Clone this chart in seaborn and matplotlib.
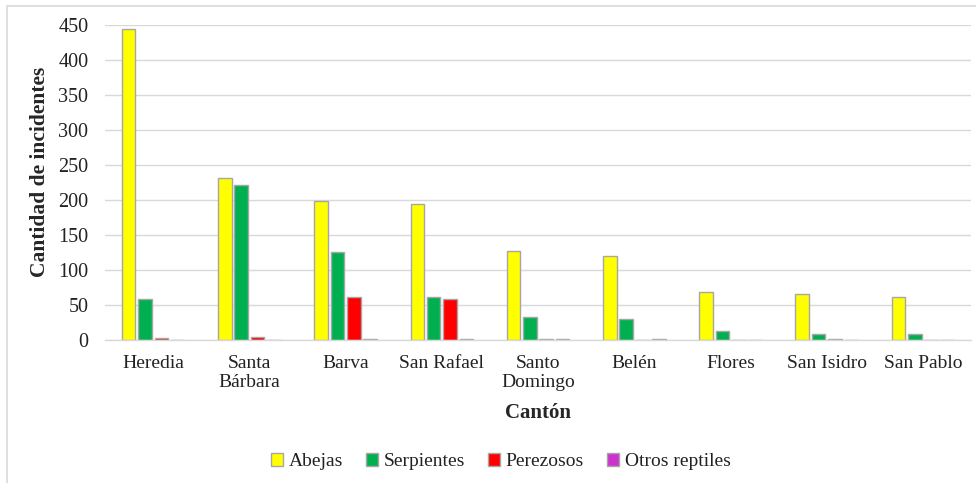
import matplotlib
matplotlib.use("Agg")
import matplotlib.pyplot as plt
import seaborn as sns
import pandas as pd
from matplotlib.patches import Rectangle

cantones = ["Heredia", "Santa\nBárbara", "Barva", "San Rafael", "Santo\nDomingo",
            "Belén", "Flores", "San Isidro", "San Pablo"]
abejas = [445, 231, 199, 194, 127, 120, 68, 66, 62]
serpientes = [58, 221, 126, 62, 33, 30, 13, 8, 9]
perezosos = [3, 4, 62, 59, 1, 0, 0, 1, 0]
otros_reptiles = [0, 0, 2, 1, 1, 1, 0, 0, 0]
series = ["Abejas", "Serpientes", "Perezosos", "Otros reptiles"]
colores = ["#FFFF00", "#00B050", "#FF0000", "#CC33CC"]
yticks = [0, 50, 100, 150, 200, 250, 300, 350, 400, 450]

rows = []
for nombre, valores in zip(series, [abejas, serpientes, perezosos, otros_reptiles]):
    for canton, v in zip(cantones, valores):
        rows.append({"Cantón": canton, "Serie": nombre, "Valor": v})
df = pd.DataFrame(rows)

sns.set_theme(style="white")
serif = ["Liberation Serif", "DejaVu Serif"]
plt.rcParams["font.family"] = serif

fig = plt.figure(figsize=(9.76, 4.83), dpi=100)
ax = fig.add_axes([0.1076, 0.296, 0.8874, 0.652])

sns.barplot(data=df, x="Cantón", y="Valor", hue="Serie", order=cantones,
            hue_order=series, palette=colores, saturation=1, width=0.68, gap=0.17,
            edgecolor="#A6A6A6", linewidth=1.0, ax=ax, legend=True)

ax.set_ylim(0, 450)
ax.set_xlim(-0.5, len(cantones) - 0.5)
ax.set_yticks(yticks)
ax.yaxis.grid(True, color="#D9D9D9", linewidth=1.0)
ax.set_axisbelow(True)
for s in ["top", "right", "left"]:
    ax.spines[s].set_visible(False)
ax.spines["bottom"].set_color("#D9D9D9")
ax.spines["bottom"].set_linewidth(1.0)
ax.tick_params(axis="both", length=0, colors="#222222")
ax.tick_params(axis="y", pad=12, labelsize=14.5)
ax.tick_params(axis="x", pad=11, labelsize=14)
for lbl in ax.get_xticklabels():
    lbl.set_linespacing(1.1)

ax.set_ylabel("Cantidad de incidentes", fontsize=15.5, fontweight="bold")
ax.yaxis.set_label_coords(-0.0635, 0.533)
ax.set_xlabel("Cantón", fontsize=15, fontweight="bold", labelpad=9)

leg = ax.legend(loc="center", bbox_to_anchor=(0.457, -0.387), ncol=4,
                frameon=False, prop={"family": serif, "size": 14},
                handlelength=0.6, handleheight=0.6,
                handletextpad=0.3, columnspacing=1.2)
for h in leg.legend_handles:
    h.set_edgecolor("#A6A6A6")
for t in leg.get_texts():
    t.set_color("#222222")

fig.patches.append(Rectangle((7 / 976, -0.01), 1.0, 1.0 - 6 / 483 + 0.01,
                             transform=fig.transFigure, fill=False,
                             edgecolor="#D9D9D9", linewidth=1.2))

fig.savefig("out.png", dpi=100, facecolor="white")
